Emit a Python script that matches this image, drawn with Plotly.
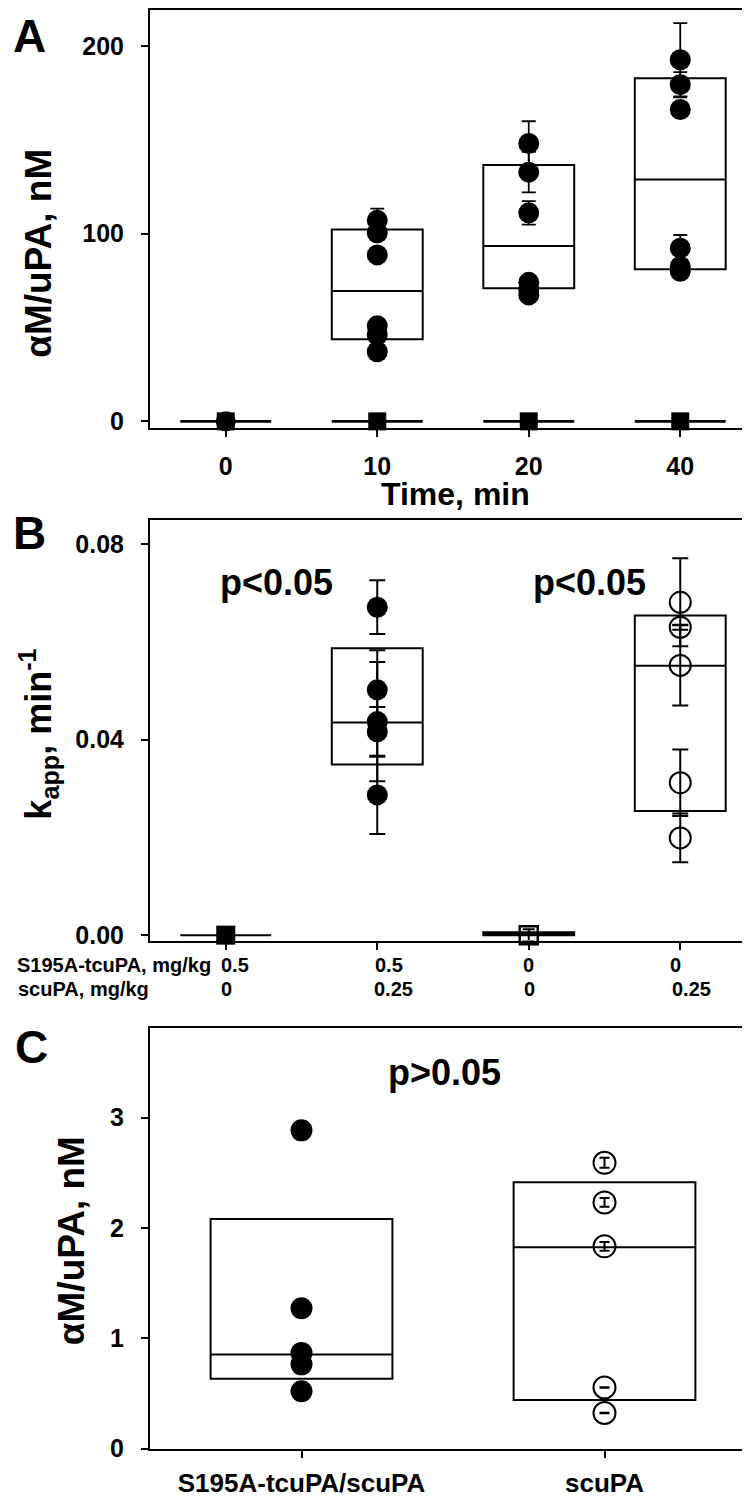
import plotly.graph_objects as go

FONT = "Liberation Sans, Arial, Helvetica, sans-serif"
W, H = 750, 1498

# ---------------- Panel A data ----------------
a_times = ["0", "10", "20", "40"]
a_circ_t0 = [0.0]
a_circ_10 = [107.1, 100.5, 88.7, 50.9, 46.0, 37.1]
a_circ_10_err = [6.3, 2.0, 2.0, 2.0, 2.0, 2.0]
a_circ_20 = [148.1, 132.8, 111.1, 74.1, 70.5, 67.4]
a_circ_20_err = [11.8, 10.8, 6.3, 2.0, 2.0, 2.0]
a_circ_40 = [192.7, 179.4, 166.2, 92.3, 82.5, 80.0]
a_circ_40_err = [19.5, 6.7, 3.0, 7.0, 2.0, 2.0]
a_ctrl = [0.0, 0.0, 0.0, 0.0]
a_q1 = [43.8, 70.9, 81.0]
a_med = [69.4, 93.5, 128.9]
a_q3 = [102.3, 136.6, 182.8]
a_zero_box = [0.0, 0.0, 0.0, 0.0]

# ---------------- Panel B data ----------------
b_groups = ["0.5/0", "0.5/0.25", "0/0", "0/0.25"]
b_tcupa = ["0.5", "0.5", "0", "0"]
b_scupa = ["0", "0.25", "0", "0.25"]
b_ctrl_tcupa = [0.0]
b_combo = [0.0671, 0.0502, 0.0437, 0.0416, 0.0287]
b_combo_err = [0.0055, 0.0081, 0.0122, 0.0051, 0.0080]
b_ctrl_none = [0.0]
b_ctrl_none_err = [0.0012]
b_scupa_only = [0.0681, 0.0630, 0.0552, 0.0312, 0.0199]
b_scupa_only_err = [0.0090, 0.0005, 0.0082, 0.0068, 0.0050]
b_q1 = [0.0, 0.0349, 0.0, 0.0254]
b_med = [0.0, 0.0435, 0.0003, 0.0551]
b_q3 = [0.0, 0.0587, 0.0006, 0.0654]

# ---------------- Panel C data ----------------
c_groups = ["S195A-tcuPA/scuPA", "scuPA"]
c_combo = [2.884, 1.272, 0.868, 0.764, 0.521]
c_scupa = [2.590, 2.231, 1.833, 0.554, 0.323]
c_scupa_err = [0.045, 0.040, 0.040, 0.003, 0.003]
c_q1 = [0.634, 0.440]
c_med = [0.853, 1.824]
c_q3 = [2.081, 2.414]


def px(x):
    return x / W


def py(y):
    return 1 - y / H


BLACK = "black"
CLEAR = "rgba(0,0,0,0)"

fig = go.Figure()


def box(xaxis, yaxis, xs, q1, med, q3, lw=2):
    return go.Box(x=xs, q1=q1, median=med, q3=q3, lowerfence=q1, upperfence=q3,
                  width=0.6, whiskerwidth=0, fillcolor=CLEAR,
                  line=dict(color=BLACK, width=lw), xaxis=xaxis, yaxis=yaxis,
                  showlegend=False, hoverinfo="skip")


def pts(xaxis, yaxis, cat, vals, err=None, symbol="circle", size=21,
        capw=7, thick=1.8, mlw=0):
    d = dict(x=[cat] * len(vals), y=vals, mode="markers", xaxis=xaxis, yaxis=yaxis,
             marker=dict(symbol=symbol, size=size, color=BLACK,
                         line=dict(color=BLACK, width=mlw)),
             cliponaxis=False, showlegend=False, hoverinfo="skip")
    if err is not None:
        d["error_y"] = dict(type="data", array=err, color=BLACK,
                            thickness=thick, width=capw)
    return go.Scatter(**d)


# Panel A
fig.add_trace(box("x", "y", a_times, a_zero_box, a_zero_box, a_zero_box, lw=2.6))
fig.add_trace(box("x", "y", a_times[1:], a_q1, a_med, a_q3, lw=2))
for i, t in enumerate(a_times):
    fig.add_trace(pts("x", "y", t, [a_ctrl[i]], symbol="square", size=18))
fig.add_trace(pts("x", "y", "0", a_circ_t0, size=20))
fig.add_trace(pts("x", "y", "10", a_circ_10, a_circ_10_err))
fig.add_trace(pts("x", "y", "20", a_circ_20, a_circ_20_err))
fig.add_trace(pts("x", "y", "40", a_circ_40, a_circ_40_err))

# Panel B
fig.add_trace(box("x2", "y2", b_groups, b_q1, b_med, b_q3, lw=2))
fig.add_trace(pts("x2", "y2", b_groups[0], b_ctrl_tcupa, symbol="square", size=19))
fig.add_trace(pts("x2", "y2", b_groups[1], b_combo, b_combo_err, size=21, capw=8, thick=2))
fig.add_trace(pts("x2", "y2", b_groups[2], b_ctrl_none, b_ctrl_none_err,
                  symbol="square-open", size=18, capw=6, thick=2, mlw=2.5))
fig.add_trace(pts("x2", "y2", b_groups[3], b_scupa_only, b_scupa_only_err,
                  symbol="circle-open", size=21, capw=8, thick=2, mlw=2))

# Panel C
fig.add_trace(box("x3", "y3", c_groups, c_q1, c_med, c_q3, lw=2))
fig.add_trace(pts("x3", "y3", c_groups[0], c_combo, size=22))
fig.add_trace(pts("x3", "y3", c_groups[1], c_scupa, c_scupa_err,
                  symbol="circle-open", size=22, capw=5, thick=2, mlw=2))

axis_common = dict(showline=True, linecolor=BLACK, linewidth=2, mirror=True,
                   ticks="outside", ticklen=7, tickwidth=2, tickcolor=BLACK,
                   showgrid=False, zeroline=False)
xdom = [px(142), px(748)]
tick_font = dict(family=FONT, size=25, color=BLACK, weight="bold")

fig.update_layout(
    width=W, height=H, margin=dict(l=0, r=0, t=0, b=0),
    paper_bgcolor="white", plot_bgcolor="white", showlegend=False,
    boxmode="overlay",
    xaxis=dict(axis_common, domain=xdom, anchor="y", type="category",
               categoryorder="array", categoryarray=a_times, range=[-0.5, 3.5],
               tickfont=tick_font, ticklabelstandoff=8),
    yaxis=dict(axis_common, domain=[py(424), py(2)], anchor="x",
               range=[-3.7, 219.2], tickvals=[0, 100, 200],
               tickfont=tick_font, ticklabelstandoff=12),
    xaxis2=dict(axis_common, domain=xdom, anchor="y2", type="category",
                categoryorder="array", categoryarray=b_groups, range=[-0.5, 3.5],
                showticklabels=False),
    yaxis2=dict(axis_common, domain=[py(940.7), py(516.7)], anchor="x2",
                range=[-0.0011, 0.0849], tickvals=[0, 0.04, 0.08], tickformat=".2f",
                tickfont=tick_font, ticklabelstandoff=12),
    xaxis3=dict(axis_common, domain=xdom, anchor="y3", type="category",
                categoryorder="array", categoryarray=c_groups, range=[-0.5, 1.5],
                tickfont=dict(family=FONT, size=26, color=BLACK, weight="bold"),
                ticklabelstandoff=2),
    yaxis3=dict(axis_common, domain=[py(1454), py(1029.3)], anchor="x3",
                range=[-0.0063, 3.808], tickvals=[0, 1, 2, 3],
                tickfont=tick_font, ticklabelstandoff=12),
)

ann = []


def text(x, y, s, size, angle=0, xanchor="center"):
    ann.append(dict(x=px(x), y=py(y), xref="paper", yref="paper", text=s,
                    showarrow=False, textangle=angle, xanchor=xanchor,
                    yanchor="middle",
                    font=dict(family=FONT, size=size, color=BLACK, weight="bold")))


# panel letters
text(21, 28, "A", 46)
text(21, 530, "B", 46)
text(23, 1048, "C", 46)
# axis titles
text(31, 248, "αM/uPA, nM", 37, angle=-90)
text(31, 733, "k<sub>app</sub>, min<sup>-1</sup>", 36, angle=-90)
text(63, 1244, "αM/uPA, nM", 37, angle=-90)
text(447.5, 490.5, "Time, min", 32)
# p-values
text(268.5, 580, "p<0.05", 36)
text(581, 580, "p<0.05", 36)
text(436, 1074, "p>0.05", 36)
# panel B dose rows
text(7, 965, "S195A-tcuPA, mg/kg", 20, xanchor="left")
text(8, 990, "scuPA, mg/kg", 20, xanchor="left")
row1_x = [227, 381, 520, 667.5]
row2_x = [218, 385.7, 521, 683]
for i in range(len(b_groups)):
    text(row1_x[i], 965, b_tcupa[i], 20)
    text(row2_x[i], 990, b_scupa[i], 20)

fig.update_layout(annotations=ann)
fig.write_html("out.html")
